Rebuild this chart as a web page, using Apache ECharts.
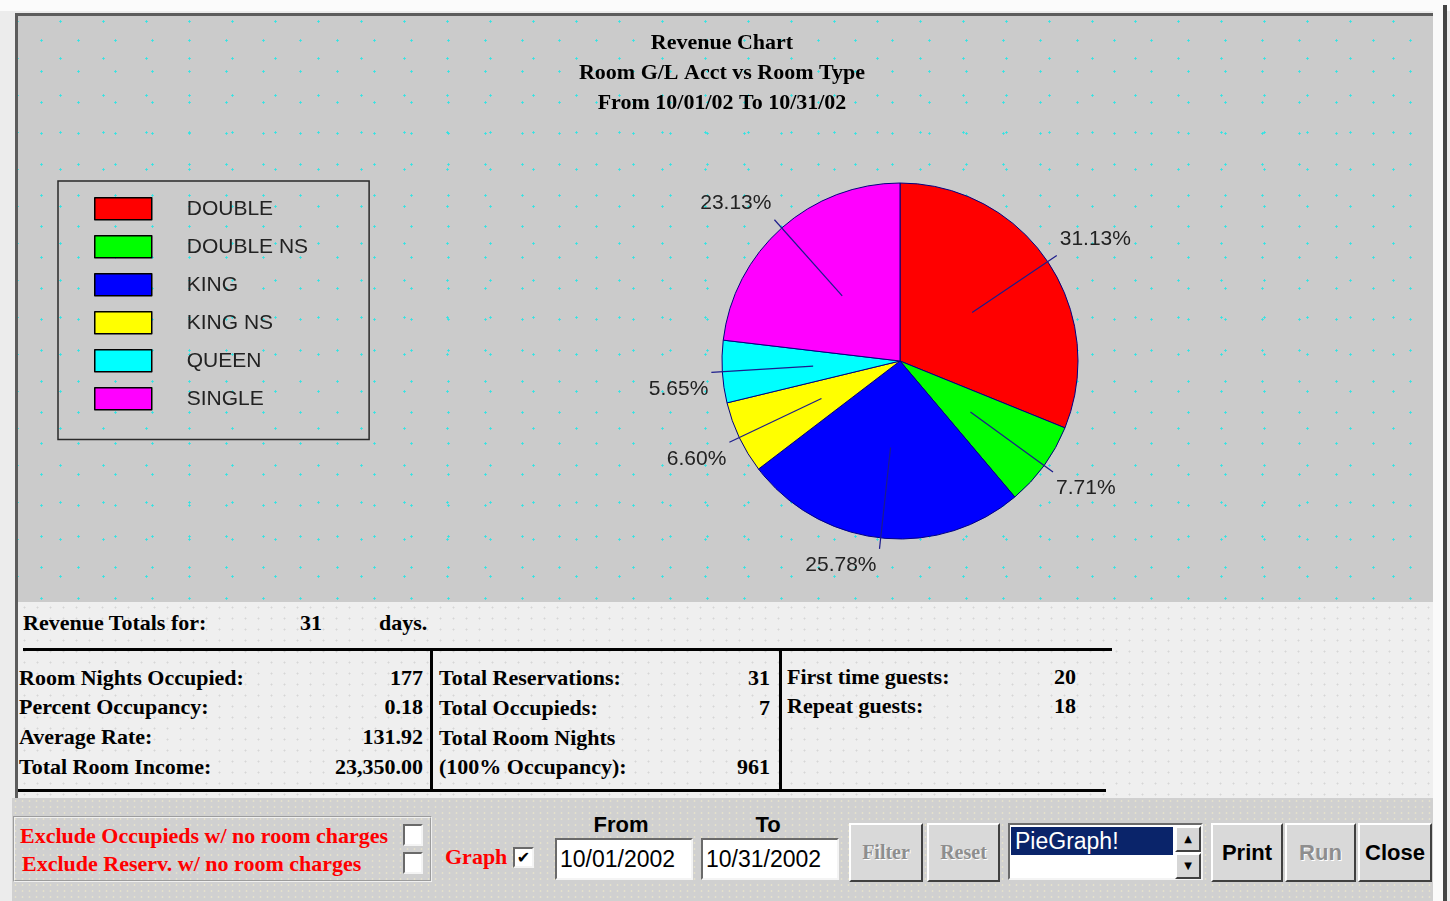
<!DOCTYPE html>
<html><head><meta charset="utf-8">
<script src="https://cdn.jsdelivr.net/npm/echarts@6/dist/echarts.min.js"></script>
<style>
html,body{margin:0;padding:0;}
body{width:1450px;height:901px;position:relative;overflow:hidden;background:#ececec;font-family:'Liberation Serif',serif;}
.a{position:absolute;white-space:nowrap;}
.topband{left:0;top:0;width:1450px;height:11px;background:#fbfbfb;}
.chartpanel{left:15px;top:13px;width:1415px;height:586px;border-top:3px solid #5c5c5c;border-left:3px solid #5c5c5c;background-color:#cbcbcb;
 background-image:radial-gradient(circle,#30e4e4 0.9px,transparent 1.4px),radial-gradient(circle,#30e4e4 0.9px,transparent 1.4px);
 background-size:37px 31px,43px 37px;background-position:5px 9px,21px 24px;}
.lower{left:15px;top:602px;width:1415px;height:196px;border-left:3px solid #5c5c5c;background:#efefef;
 background-image:radial-gradient(circle,#d6d6d6 0.8px,transparent 1.2px);background-size:13px 11px;}
.bar{left:12px;top:798px;width:1421px;height:103px;background:#d0d0d0;
 background-image:radial-gradient(circle,#e4e0cc 0.8px,transparent 1.2px);background-size:7px 6px;}
.rband{left:1433px;top:10px;width:10px;height:891px;background:#fafafa;}
.rline{left:1443px;top:5px;width:4px;height:896px;background:#444;}
.b{font:bold 22px 'Liberation Serif',serif;color:#000;line-height:26px;}
.val{text-align:right;}
.hl{background:#000;height:3px;}
.vl{background:#000;width:3px;}
.r{font:bold 22px 'Liberation Serif',serif;color:#ff0000;line-height:26px;}
.grp{left:13px;top:816px;width:419px;height:66px;box-sizing:border-box;border:2px groove #f0f0f0;}
.cb{box-sizing:border-box;background:#fff;border-style:solid;border-width:2px;border-color:#6a6a6a #f4f4f4 #f4f4f4 #6a6a6a;}
.lab{font:bold 22px 'Liberation Sans',sans-serif;color:#000;text-align:center;width:100px;line-height:26px;}
.date{box-sizing:border-box;background:#fff;border-style:solid;border-width:2px;border-color:#6a6a6a #f4f4f4 #f4f4f4 #6a6a6a;font:23px 'Liberation Sans',sans-serif;color:#000;line-height:38px;padding-left:3px;}
.btn{box-sizing:border-box;border-style:solid;border-width:2px;border-color:#ffffff #404040 #404040 #ffffff;background:#d9d9d9;text-align:center;}
.bs{font:bold 22px 'Liberation Sans',sans-serif;color:#000;line-height:55px;}
.bser{font:bold 20px 'Liberation Serif',serif;line-height:55px;}
.dis{color:#8e8e8e;text-shadow:1px 1px 0 #ffffff;}
.list{left:1008px;top:823px;width:195px;height:57px;box-sizing:border-box;background:#fff;border-style:solid;border-width:2px;border-color:#6a6a6a #f4f4f4 #f4f4f4 #6a6a6a;}
.sel{left:1011px;top:827px;width:162px;height:28px;background:#0a246a;color:#fff;font:23px 'Liberation Sans',sans-serif;line-height:28px;padding-left:4px;box-sizing:border-box;}
.sb{box-sizing:border-box;border-style:solid;border-width:2px;border-color:#ffffff #404040 #404040 #ffffff;background:#d6d6d6;text-align:center;font:10px 'DejaVu Sans',sans-serif;line-height:22px;color:#000;}
#chart{position:absolute;left:0;top:0;width:1444px;height:901px;z-index:5;}
</style></head>
<body>
<div class="a topband"></div>
<div class="a chartpanel"></div>
<div class="a lower"></div>
<div class="a bar"></div>
<div class="a rband"></div>
<div class="a rline"></div>

<div class="a b" style="left:23px;top:610px;">Revenue Totals for:</div>
<div class="a b" style="left:300px;top:610px;">31</div>
<div class="a b" style="left:379px;top:610px;">days.</div>
<div class="a hl" style="left:23px;top:648px;width:1089px;"></div>
<div class="a hl" style="left:18px;top:789px;width:1088px;"></div>
<div class="a vl" style="left:430px;top:650px;height:140px;"></div>
<div class="a vl" style="left:779px;top:650px;height:140px;"></div>

<div class="a b" style="left:19px;top:665px;">Room Nights Occupied:</div>
<div class="a b" style="left:19px;top:694px;">Percent Occupancy:</div>
<div class="a b" style="left:19px;top:724px;">Average Rate:</div>
<div class="a b" style="left:19px;top:754px;">Total Room Income:</div>
<div class="a b val" style="left:223px;width:200px;top:665px;">177</div>
<div class="a b val" style="left:223px;width:200px;top:694px;">0.18</div>
<div class="a b val" style="left:223px;width:200px;top:724px;">131.92</div>
<div class="a b val" style="left:223px;width:200px;top:754px;">23,350.00</div>

<div class="a b" style="left:439px;top:665px;">Total Reservations:</div>
<div class="a b" style="left:439px;top:695px;">Total Occupieds:</div>
<div class="a b" style="left:439px;top:725px;">Total Room Nights</div>
<div class="a b" style="left:439px;top:754px;">(100% Occupancy):</div>
<div class="a b val" style="left:570px;width:200px;top:665px;">31</div>
<div class="a b val" style="left:570px;width:200px;top:695px;">7</div>
<div class="a b val" style="left:570px;width:200px;top:754px;">961</div>

<div class="a b" style="left:787px;top:664px;">First time guests:</div>
<div class="a b" style="left:787px;top:693px;">Repeat guests:</div>
<div class="a b val" style="left:976px;width:100px;top:664px;">20</div>
<div class="a b val" style="left:976px;width:100px;top:693px;">18</div>

<div class="a grp"></div>
<div class="a r" style="left:20px;top:823px;">Exclude Occupieds w/ no room charges</div>
<div class="a r" style="left:22px;top:851px;">Exclude Reserv. w/ no room charges</div>
<div class="a cb" style="left:403px;top:824px;width:20px;height:22px;"></div>
<div class="a cb" style="left:403px;top:852px;width:20px;height:22px;"></div>
<div class="a r" style="left:445px;top:844px;">Graph</div>
<div class="a cb" style="left:513px;top:847px;width:21px;height:21px;font:bold 16px 'DejaVu Sans',sans-serif;line-height:17px;text-align:center;color:#000;">✔</div>

<div class="a lab" style="left:571px;top:812px;">From</div>
<div class="a lab" style="left:718px;top:812px;">To</div>
<div class="a date" style="left:555px;top:838px;width:138px;height:42px;">10/01/2002</div>
<div class="a date" style="left:701px;top:838px;width:138px;height:42px;">10/31/2002</div>

<div class="a btn bser dis" style="left:849px;top:823px;width:74px;height:59px;">Filter</div>
<div class="a btn bser dis" style="left:927px;top:823px;width:73px;height:59px;">Reset</div>
<div class="a list"></div>
<div class="a sel">PieGraph!</div>
<div class="a sb" style="left:1175px;top:826px;width:26px;height:26px;">▲</div>
<div class="a sb" style="left:1175px;top:853px;width:26px;height:26px;">▼</div>
<div class="a btn bs" style="left:1211px;top:823px;width:72px;height:59px;">Print</div>
<div class="a btn bs dis" style="left:1285px;top:823px;width:71px;height:59px;">Run</div>
<div class="a btn bs" style="left:1358px;top:823px;width:74px;height:59px;">Close</div>

<div id="chart"></div>
<script>
const categories = ['DOUBLE', 'DOUBLE NS', 'KING', 'KING NS', 'QUEEN', 'SINGLE'];
const shares = [31.13, 7.71, 25.78, 6.60, 5.65, 23.13];
const sliceColors = ['#ff0000', '#00ff00', '#0000ff', '#ffff00', '#00ffff', '#ff00ff'];
const titleLines = ['Revenue Chart', 'Room G/L Acct vs Room Type', 'From 10/01/02 To 10/31/02'];

const total = shares.reduce((a, b) => a + b, 0);
const pieData = categories.map((name, i) => ({ name: name, value: shares[i], itemStyle: { color: sliceColors[i] } }));
let cum = 0;
const labelData = categories.map((name, i) => {
  const mid = (cum + shares[i] / 2) / total * 2 * Math.PI;
  cum += shares[i];
  return { name: name, value: shares[i], up: Math.cos(mid) > 0 };
});

const chart = echarts.init(document.getElementById('chart'), null, { renderer: 'canvas' });
chart.setOption({
  backgroundColor: 'transparent',
  animation: false,
  title: {
    text: titleLines.join('\n'),
    left: 'center', top: 28, padding: 0,
    textStyle: { fontSize: 22, fontWeight: 'bold', fontFamily: 'Liberation Serif', color: '#000', lineHeight: 30 }
  },
  legend: {
    orient: 'vertical', left: 58, top: 181,
    padding: [16, 61, 29, 36],
    itemWidth: 57, itemHeight: 22, itemGap: 14.5,
    borderColor: '#2a2a2a', borderWidth: 1.5,
    icon: 'rect',
    selectedMode: false,
    itemStyle: { borderColor: '#000', borderWidth: 1.5 },
    textStyle: { fontSize: 21, color: '#222', fontFamily: 'Liberation Sans', padding: [0, 0, 0, 30], lineHeight: 22 },
    data: categories
  },
  series: [
    {
      type: 'pie', center: [900, 361], radius: 178,
      startAngle: 90, clockwise: true,
      label: { show: false }, labelLine: { show: false },
      itemStyle: { borderColor: '#000080', borderWidth: 1 },
      emphasis: { disabled: true },
      data: pieData
    },
    {
      type: 'pie', center: [900, 361], radius: 87,
      startAngle: 90, clockwise: true, silent: true,
      avoidLabelOverlap: false,
      z: 3,
      itemStyle: { color: 'rgba(0,0,0,0)', borderWidth: 0 },
      label: {
        show: true, position: 'outside',
        formatter: p => {
          const t = p.value.toFixed(2) + '%';
          return p.data.up ? t + '\n ' : ' \n' + t;
        },
        fontSize: 21, color: '#222', fontFamily: 'Liberation Sans', lineHeight: 33,
        distanceToLabelLine: 3
      },
      labelLine: { show: true, length: 102, length2: 0, lineStyle: { color: '#1c1c8c', width: 1.2 } },
      emphasis: { disabled: true },
      data: labelData
    }
  ]
});
</script>
</body></html>
